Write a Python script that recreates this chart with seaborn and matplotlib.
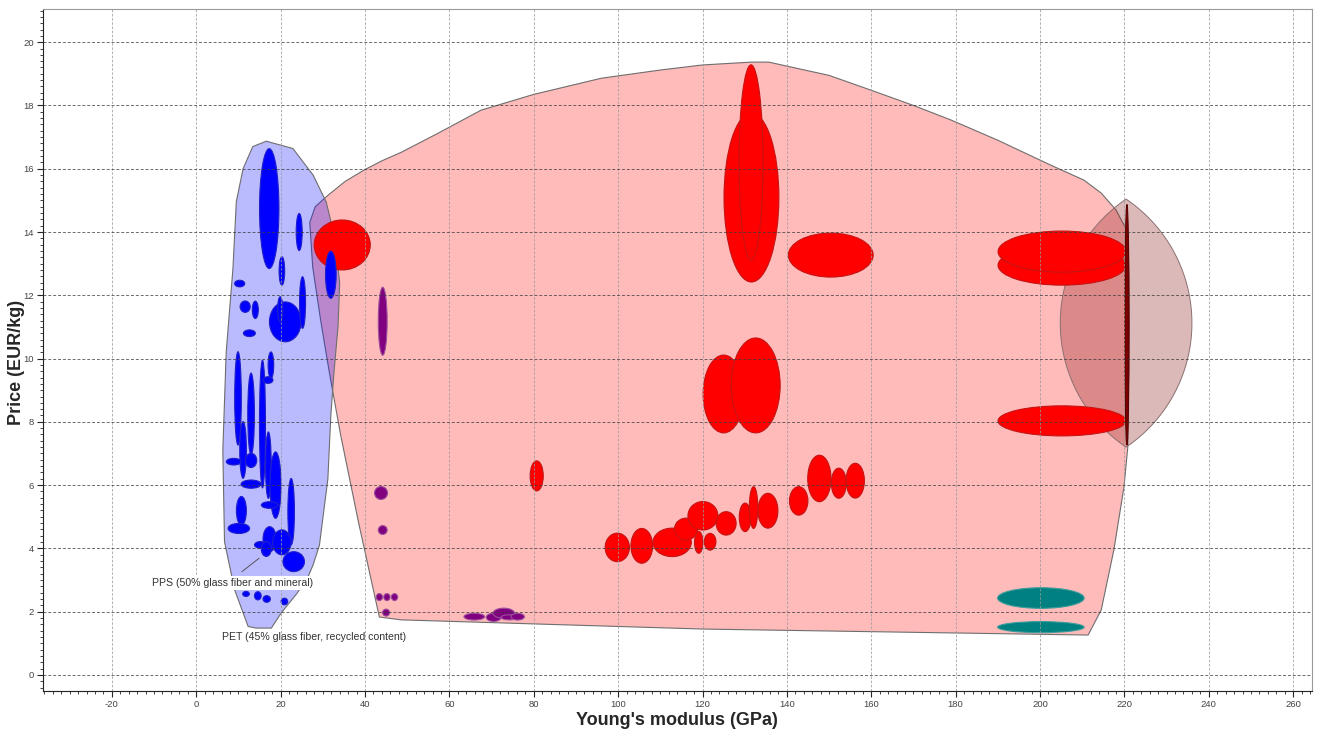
import numpy as np
import matplotlib
matplotlib.use("Agg")
import matplotlib.pyplot as plt
import seaborn as sns
from matplotlib.patches import Ellipse, Polygon
from matplotlib.ticker import MultipleLocator

# ---- envelopes (Young's modulus GPa, price EUR/kg) ----
pink_env_x = [43.4, 38.5, 34.2, 31.5, 29.5, 27.6, 26.9, 28.2, 31.3, 35.3, 39.8, 44.0, 48.6, 57.0,
              67.5, 80.0, 96.0, 110.0, 120.0, 131.5, 135.7, 150.0, 160.0, 170.0, 178.9, 190.0,
              202.6, 210.4, 214.5, 218.0, 220.9, 221.1, 220.8, 219.9, 217.5, 214.5, 211.4,
              120.0, 48.6]
pink_env_y = [1.83, 4.8, 7.6, 9.6, 11.2, 12.9, 14.3, 14.8, 15.17, 15.6, 15.96, 16.25, 16.52, 17.1,
              17.85, 18.35, 18.86, 19.12, 19.28, 19.37, 19.37, 18.95, 18.48, 18.0, 17.54, 16.9,
              16.11, 15.64, 15.23, 14.7, 13.97, 11.0, 7.2, 5.94, 3.95, 2.05, 1.26,
              1.45, 1.74]

blue_env_x = [16.6, 22.9, 27.7, 30.8, 32.7, 34.0, 33.6, 32.6, 31.9, 31.2, 29.2, 27.7, 26.5, 23.9,
              20.1, 17.8, 14.2, 12.3, 9.1, 6.7, 6.3, 7.1, 8.7, 9.5, 11.1, 13.4]
blue_env_y = [16.87, 16.64, 15.8, 14.95, 13.9, 12.4, 11.0, 9.5, 8.2, 6.2, 4.1, 3.48, 3.1, 2.58,
              1.95, 1.48, 1.48, 1.53, 2.69, 4.21, 7.1, 10.2, 12.85, 14.96, 16.0, 16.7]

# lens shaped envelope on the right
lens_x, lens_y = 220.4, 11.12
lens_half_w, lens_half_h = 15.6, 3.92

# ---- material bubbles: centre x, centre y, width, height ----
red_x = [34.6, 131.6, 131.5, 150.4, 125.0, 132.6, 205.2, 205.2, 205.2, 80.7,
         99.8, 105.6, 112.8, 116.1, 120.1, 119.1, 121.8, 125.6, 130.1, 132.1,
         135.5, 142.8, 147.7, 152.3, 156.2]
red_y = [13.59, 15.09, 16.2, 13.27, 8.88, 9.15, 12.95, 13.38, 8.03, 6.29,
         4.03, 4.08, 4.19, 4.61, 5.03, 4.19, 4.21, 4.79, 4.98, 5.29,
         5.19, 5.5, 6.21, 6.06, 6.14]
red_w = [13.3, 13.0, 5.7, 20.1, 9.7, 11.6, 30.3, 30.3, 30.3, 3.1,
         5.76, 5.14, 9.08, 5.5, 7.1, 1.97, 2.77, 4.74, 2.77, 2.0,
         4.74, 4.36, 5.52, 3.55, 4.34]
red_h = [1.58, 5.34, 6.17, 1.39, 2.46, 3.0, 1.26, 1.30, 0.95, 0.95,
         0.9, 1.1, 0.9, 0.69, 0.9, 0.69, 0.53, 0.74, 0.9, 1.32,
         1.1, 0.9, 1.47, 0.95, 1.1]

blue_x = [17.3, 24.4, 20.3, 31.9, 10.3, 11.6, 14.0, 21.1, 19.9, 25.2, 12.6, 9.9, 13.0, 15.7,
          17.7, 17.0, 11.1, 8.9, 13.0, 13.0, 17.1, 18.8, 22.5, 17.4, 10.7, 10.1, 17.4, 20.3,
          15.2, 16.6, 23.1, 11.8, 14.6, 16.7, 20.9]
blue_y = [14.74, 14.0, 12.77, 12.65, 12.37, 11.64, 11.54, 11.16, 11.56, 11.77, 10.8, 8.74, 8.25, 7.93,
          9.79, 9.32, 7.11, 6.74, 6.78, 6.03, 6.63, 6.0, 5.16, 5.37, 5.19, 4.63, 4.29, 4.19,
          4.11, 3.98, 3.58, 2.56, 2.5, 2.4, 2.32]
blue_w = [4.6, 1.42, 1.33, 2.53, 2.4, 2.4, 1.42, 7.5, 1.2, 1.42, 2.84, 1.58, 1.58, 1.42,
          1.33, 2.37, 1.58, 3.55, 2.7, 4.74, 1.35, 2.6, 1.56, 3.95, 2.37, 5.1, 3.15, 4.34,
          2.77, 2.37, 5.1, 1.58, 1.58, 1.75, 1.58]
blue_h = [3.79, 1.17, 0.9, 1.49, 0.21, 0.36, 0.55, 1.26, 0.79, 1.63, 0.21, 2.95, 2.58, 4.04,
          0.84, 0.21, 1.79, 0.21, 0.45, 0.26, 2.1, 2.1, 2.1, 0.21, 0.9, 0.32, 0.79, 0.79,
          0.21, 0.47, 0.63, 0.16, 0.26, 0.21, 0.21]

purple_x = [44.2, 43.8, 44.2, 43.4, 45.2, 47.0, 45.0, 65.9, 70.5, 72.9, 74.2, 76.2]
purple_y = [11.18, 5.75, 4.58, 2.46, 2.46, 2.46, 1.97, 1.84, 1.82, 1.95, 1.82, 1.84]
purple_w = [2.1, 3.1, 2.1, 1.5, 1.5, 1.5, 1.66, 4.88, 3.55, 5.1, 3.95, 3.16]
purple_h = [2.15, 0.41, 0.28, 0.22, 0.22, 0.22, 0.22, 0.21, 0.26, 0.32, 0.16, 0.21]

teal_x = [200.2, 200.2]
teal_y = [2.43, 1.51]
teal_w = [20.5, 20.5]
teal_h = [0.65, 0.35]

darkred_x, darkred_y, darkred_w, darkred_h = [220.6], [11.07], [1.0], [7.6]

labels = ["PPS (50% glass fiber and mineral)", "PET (45% glass fiber, recycled content)"]
label_x = [8.6, 28.0]
label_y = [2.9, 1.19]

sns.set_style("white")
plt.rcParams["font.family"] = ["Liberation Sans", "DejaVu Sans"]
plt.rcParams["axes.unicode_minus"] = False

fig = plt.figure(figsize=(13.17, 7.29), dpi=100)
ax = fig.add_axes([0.0324, 0.0525, 0.9636, 0.9352])


def add_ellipses(xs, ys, ws, hs, face, edge, z):
    for x, y, w, h in zip(xs, ys, ws, hs):
        ax.add_patch(Ellipse((x, y), w, h, facecolor=face, edgecolor=edge, lw=0.8, zorder=z))


# envelopes
ax.add_patch(Polygon(np.column_stack([pink_env_x, pink_env_y]), closed=True,
                     facecolor=(1, 0, 0, 0.27), edgecolor="#6e6e6e", lw=0.8, zorder=1))
ax.add_patch(Polygon(np.column_stack([blue_env_x, blue_env_y]), closed=True,
                     facecolor=(0, 0, 1, 0.27), edgecolor="#6e6e6e", lw=0.8, zorder=1.1))

# lens made of two circular arcs (circular in screen space)
sx, sy = 4.218, 31.63  # px per data unit
hw, hh = lens_half_w * sx, lens_half_h * sy
R = (hh ** 2 + hw ** 2) / (2 * hw)
t = np.linspace(-hh, hh, 120)
off = (hw - R) + np.sqrt(R ** 2 - t ** 2)
lx = np.concatenate([lens_x - off / sx, (lens_x + off / sx)[::-1]])
ly = np.concatenate([lens_y + t / sy, (lens_y + t / sy)[::-1]])
ax.add_patch(Polygon(np.column_stack([lx, ly]), closed=True,
                     facecolor=(0.55, 0.1, 0.1, 0.3), edgecolor="#8a7070", lw=0.7, zorder=1.2))

add_ellipses(red_x, red_y, red_w, red_h, "#ff0000", "#c41414", 2)
add_ellipses(purple_x, purple_y, purple_w, purple_h, "#800080", "#9c4f9c", 2)
add_ellipses(teal_x, teal_y, teal_w, teal_h, "#008080", "#3a9c9c", 2)
add_ellipses(blue_x, blue_y, blue_w, blue_h, "#0000ff", "#2020c8", 2.1)
add_ellipses(darkred_x, darkred_y, darkred_w, darkred_h, "#7a0000", "#5a0000", 2.2)

# labels
ax.annotate("", xy=(15.4, 3.74), xytext=(10.3, 3.21),
            arrowprops=dict(arrowstyle="-", color="#555555", lw=0.7), zorder=3)
ax.text(label_x[0], label_y[0], labels[0], ha="center", va="center", fontsize=7.6,
        color="#333333", zorder=4, bbox=dict(fc="white", ec="none", pad=1.2))
ax.text(label_x[1], label_y[1], labels[1], ha="center", va="center", fontsize=7.6,
        color="#333333", zorder=4)

# axes
ax.set_xlim(-36.4, 264.4)
ax.set_ylim(-0.5, 21.05)
ax.xaxis.set_major_locator(MultipleLocator(20))
ax.xaxis.set_minor_locator(MultipleLocator(2))
ax.yaxis.set_major_locator(MultipleLocator(2))
ax.yaxis.set_minor_locator(MultipleLocator(0.2))
ax.tick_params(which="major", length=4, width=0.8, direction="out", labelsize=6.8,
               labelcolor="#444444", pad=2.5, bottom=True, left=True)
ax.tick_params(which="minor", length=2.2, width=0.6, direction="out", bottom=True, left=True)

ax.set_axisbelow(False)
ax.xaxis.grid(True, which="major", color="#9a9a9a", ls=(0, (3, 2)), lw=0.6, alpha=0.9)
ax.yaxis.grid(True, which="major", color="#3a3a3a", ls=(0, (3, 2)), lw=0.7, alpha=0.75)

for side in ["top", "right"]:
    ax.spines[side].set_color("#999999")
for side in ["left", "bottom"]:
    ax.spines[side].set_color("#222222")

ax.set_xlabel("Young's modulus (GPa)", fontsize=13, fontweight="bold", labelpad=2)
ax.set_ylabel("Price (EUR/kg)", fontsize=13, fontweight="bold")
ax.yaxis.set_label_coords(-0.014, 0.482)

fig.savefig("out.png", dpi=100)
